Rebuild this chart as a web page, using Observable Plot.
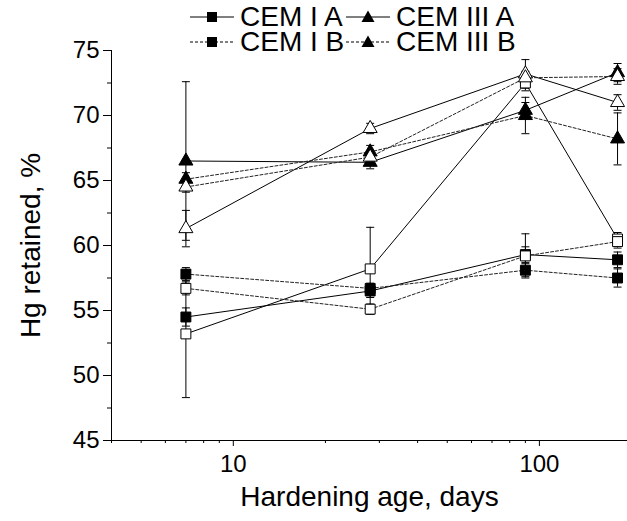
<!DOCTYPE html>
<html><head><meta charset="utf-8">
<script src="https://cdn.jsdelivr.net/npm/d3@7"></script>
<script src="https://cdn.jsdelivr.net/npm/@observablehq/plot@0.6"></script>
<style>
body{margin:0;background:#fff;font-family:"Liberation Sans",Arial,sans-serif;}
#wrap{position:relative;width:627px;height:521px;overflow:hidden;}
#legend{position:absolute;left:0;top:0;width:627px;height:60px;pointer-events:none;}
.item{position:absolute;display:flex;align-items:center;font-size:28px;height:24px;line-height:24px;white-space:nowrap;color:#000;}
.item span{display:inline-block;height:24px;line-height:24px;}
.item svg{margin-right:6px;}
</style></head><body>
<div id="wrap"><div id="chart"></div><div id="legend"></div></div>
<script>
// ---- data ----
const days = [7, 28, 90, 180];
const legendNames = ["CEM I A", "CEM III A", "CEM I B", "CEM III B"];

const cemIA_filled   = [54.5, 56.5, 59.3, 58.9];
const cemIA_open     = [53.2, 58.2, 72.5, 60.5];
const cemIB_filled   = [57.8, 56.7, 58.1, 57.5];
const cemIB_open     = [56.7, 55.1, 59.2, 60.3];
const cemIIIA_filled = [66.5, 66.4, 70.4, 73.3];
const cemIIIA_open   = [61.3, 69.0, 73.2, 71.0];
const cemIIIB_filled = [65.1, 67.2, 70.0, 68.2];
const cemIIIB_open   = [64.5, 66.8, 72.9, 73.0];

const errIA_filled   = [0.7, 0.5, 0.6, 0.6];
const errIA_open     = [4.9, 3.2, 0.6, 0.5];
const errIB_filled   = [0.5, 0.4, 0.5, 0.7];
const errIB_open     = [0.5, 0.4, 1.7, 0.5];
const errIIIA_filled = [6.1, 0.5, 0.6, 0.7];
const errIIIA_open   = [1.4, 0.4, 1.1, 0.6];
const errIIIB_filled = [0.5, 0.5, 1.4, 2.0];
const errIIIB_open   = [0.4, 0.4, 0.5, 0.6];

const xMajorTicks = [10, 100];
const xMinorTicks = [4, 5, 6, 7, 8, 9, 20, 30, 40, 50, 60, 70, 80, 90];
const yMajorTicks = [45, 50, 55, 60, 65, 70, 75];
const yMinorTicks = [47.5, 52.5, 57.5, 62.5, 67.5, 72.5];

// ---- series table ----
const series = [
  {key: "CEM I A filled",   group: "CEM I A",   shape: "square",   open: false, dashed: false, values: cemIA_filled,   err: errIA_filled},
  {key: "CEM I B filled",   group: "CEM I B",   shape: "square",   open: false, dashed: true,  values: cemIB_filled,   err: errIB_filled},
  {key: "CEM III A filled", group: "CEM III A", shape: "triangle", open: false, dashed: false, values: cemIIIA_filled, err: errIIIA_filled},
  {key: "CEM III B filled", group: "CEM III B", shape: "triangle", open: false, dashed: true,  values: cemIIIB_filled, err: errIIIB_filled},
  {key: "CEM I A open",     group: "CEM I A",   shape: "square",   open: true,  dashed: false, values: cemIA_open,     err: errIA_open},
  {key: "CEM I B open",     group: "CEM I B",   shape: "square",   open: true,  dashed: true,  values: cemIB_open,     err: errIB_open},
  {key: "CEM III A open",   group: "CEM III A", shape: "triangle", open: true,  dashed: false, values: cemIIIA_open,   err: errIIIA_open},
  {key: "CEM III B open",   group: "CEM III B", shape: "triangle", open: true,  dashed: true,  values: cemIIIB_open,   err: errIIIB_open}
];
const rows = series.flatMap((s, si) => days.map((d, i) => ({
  key: s.key, order: si, shape: s.shape, open: s.open, dashed: s.dashed,
  day: d, value: s.values[i], err: s.err[i]
})));

const capSymbol = {draw(ctx) { ctx.moveTo(-4, 0); ctx.lineTo(4, 0); }};
const dotOpts = (shape, r) => ({
  x: "day", y: "value", symbol: shape, r,
  fill: d => d.open ? "white" : "black", stroke: "black", strokeWidth: 1
});

const chart = Plot.plot({
  width: 627, height: 521,
  marginLeft: 111, marginRight: 0, marginTop: 50, marginBottom: 81,
  style: {fontFamily: "'Liberation Sans', Arial, sans-serif", fontSize: "24px", color: "black", background: "white"},
  color: {type: "identity"},
  x: {type: "log", domain: [4, 194]},
  y: {domain: [45, 75]},
  marks: [
    Plot.ruleY([45], {stroke: "black", strokeWidth: 1}),
    Plot.ruleX([4], {stroke: "black", strokeWidth: 1}),
    Plot.axisX({ticks: xMinorTicks, tickSize: 3, tickFormat: () => "", label: null}),
    Plot.axisX({ticks: xMajorTicks, tickSize: 6, tickPadding: 8, tickFormat: d => String(d), fontSize: 24, label: null}),
    Plot.axisX({ticks: [], tickSize: 0, fontSize: 28,
      label: "Hardening age, days", labelAnchor: "center", labelArrow: "none", labelOffset: 65}),
    Plot.axisY({ticks: yMinorTicks, tickSize: 4, tickFormat: () => "", label: null}),
    Plot.axisY({ticks: yMajorTicks, tickSize: 8, tickPadding: 4, tickFormat: d => String(d), fontSize: 24, label: null}),
    Plot.axisY({ticks: [], tickSize: 0, fontSize: 28,
      label: "Hg retained, %", labelAnchor: "center", labelArrow: "none", labelOffset: 91}),
    Plot.line(rows.filter(d => !d.dashed), {x: "day", y: "value", z: "key", stroke: "black", strokeWidth: 1}),
    Plot.line(rows.filter(d => d.dashed), {x: "day", y: "value", z: "key", stroke: "#222", strokeWidth: 1, strokeDasharray: "3,2"}),
    Plot.ruleX(rows, {x: "day", y1: d => d.value - d.err, y2: d => d.value + d.err, stroke: "black", strokeWidth: 1}),
    Plot.dot(rows, {x: "day", y: d => d.value + d.err, symbol: capSymbol, fill: "none", stroke: "black", strokeWidth: 1}),
    Plot.dot(rows, {x: "day", y: d => d.value - d.err, symbol: capSymbol, fill: "none", stroke: "black", strokeWidth: 1}),
    Plot.dot(rows.filter(d => d.shape === "square"), dotOpts("square", 5.6)),
    Plot.dot(rows.filter(d => d.shape === "triangle"), dotOpts("triangle", 5.2))
  ]
});
document.getElementById("chart").appendChild(chart);

// ---- legend (HTML, above the plot area) ----
const legendPos = [[190, 5], [346, 5], [190, 30], [346, 30]];
const legend = document.getElementById("legend");
legendNames.forEach((name, i) => {
  const s = series.find(t => t.group === name && !t.open);
  const div = document.createElement("div");
  div.className = "item";
  div.style.left = legendPos[i][0] + "px";
  div.style.top = legendPos[i][1] + "px";
  const dash = s.dashed ? ' stroke-dasharray="3,2"' : '';
  const marker = s.shape === "square"
    ? '<rect x="17" y="5" width="10" height="10" fill="black"/>'
    : '<path d="M22,3.5 L28.5,15 L15.5,15 Z" fill="black"/>';
  div.innerHTML = `<svg width="44" height="20"><line x1="0" y1="10" x2="44" y2="10" stroke="black" stroke-width="1"${dash}/>${marker}</svg><span>${name}</span>`;
  legend.appendChild(div);
});
</script>
</body></html>
